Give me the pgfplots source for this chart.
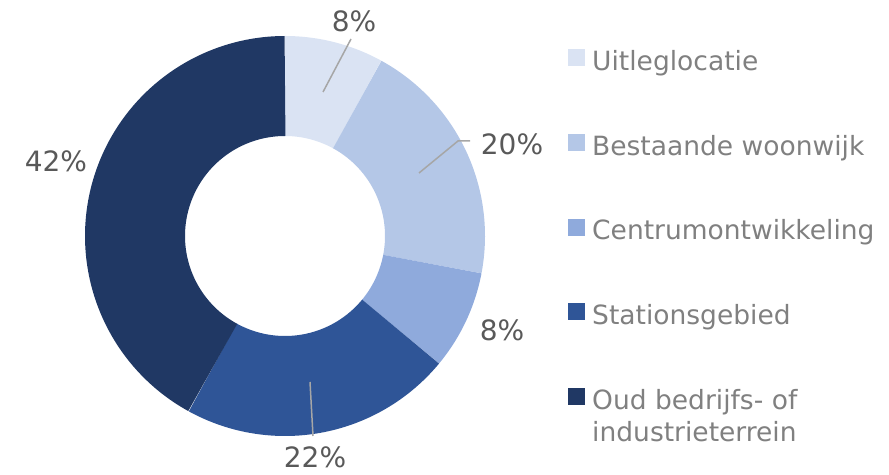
\documentclass[border=0pt]{standalone}
\usepackage{pgfplots}
\pgfplotsset{compat=1.18}
\usepackage{fontspec}
\setmainfont{DejaVu Sans}
\definecolor{cA}{HTML}{DAE3F3}
\definecolor{cB}{HTML}{B4C7E7}
\definecolor{cC}{HTML}{8FAADC}
\definecolor{cD}{HTML}{2F5597}
\definecolor{cE}{HTML}{203864}
\definecolor{labgray}{HTML}{595959}
\definecolor{leggray}{HTML}{808080}
\definecolor{linegray}{HTML}{A6A6A6}
\begin{document}
\begin{tikzpicture}
% shares (percent)
\def\vA{8}\def\vB{20}\def\vC{8}\def\vD{22}\def\vE{42}
\pgfmathsetmacro{\aO}{90}
\pgfmathsetmacro{\aA}{\aO-3.6*\vA}
\pgfmathsetmacro{\aB}{\aA-3.6*\vB}
\pgfmathsetmacro{\aC}{\aB-3.6*\vC}
\pgfmathsetmacro{\aD}{\aC-3.6*\vD}
\pgfmathsetmacro{\aE}{\aD-3.6*\vE}
\begin{axis}[
  x=1pt, y=1pt, xmin=0, xmax=889, ymin=0, ymax=474,
  hide axis, clip=false, samples=150,
  legend image code/.code={\fill[#1, draw=none] (0pt,-2.5pt) rectangle (17pt,14.5pt);},
  legend cell align=left,
  legend style={at={(axis cs:568,425)}, anchor=north west, draw=none, fill=none,
    inner sep=0pt, row sep=57pt, column sep=7pt,
    font=\fontsize{26.5}{32}\selectfont, text=leggray,
    nodes={inner sep=0pt, text height=20pt, text depth=6.5pt}},
]
\path (axis cs:0,0) rectangle (axis cs:889,474);
\addplot[color=cA, line width=100pt, domain=\aA:\aO, variable=\t] ({285+150*cos(\t)},{238+150*sin(\t)});
\addlegendentry{Uitleglocatie}
\addplot[color=cB, line width=100pt, domain=\aB:\aA, variable=\t] ({285+150*cos(\t)},{238+150*sin(\t)});
\addlegendentry{Bestaande woonwijk}
\addplot[color=cC, line width=100pt, domain=\aC:\aB, variable=\t] ({285+150*cos(\t)},{238+150*sin(\t)});
\addlegendentry{Centrumontwikkeling}
\addplot[color=cD, line width=100pt, domain=\aD:\aC, variable=\t] ({285+150*cos(\t)},{238+150*sin(\t)});
\addlegendentry{Stationsgebied}
\addplot[color=cE, line width=100pt, domain=\aE:\aD, variable=\t] ({285+150*cos(\t)},{238+150*sin(\t)});
\addlegendentry{\begin{tabular}[t]{@{}l@{}}Oud bedrijfs- of\\industrieterrein\end{tabular}}
% leader lines
\addplot[color=linegray, line width=1.5pt, forget plot] coordinates {(323,382) (351,435)};
\addplot[color=linegray, line width=1.5pt, forget plot] coordinates {(419,301) (458,333) (470,333)};
\addplot[color=linegray, line width=1.5pt, forget plot] coordinates {(310,92) (313,38)};
% data labels
\begin{scope}[every node/.style={anchor=base, font=\fontsize{28}{32}\selectfont, text=labgray, inner sep=0pt}]
\node at (axis cs:354,442) {8\%};
\node at (axis cs:512,319) {20\%};
\node at (axis cs:502,133) {8\%};
\node at (axis cs:315,6) {22\%};
\node at (axis cs:56,302) {42\%};
\end{scope}
\end{axis}
\end{tikzpicture}
\end{document}
